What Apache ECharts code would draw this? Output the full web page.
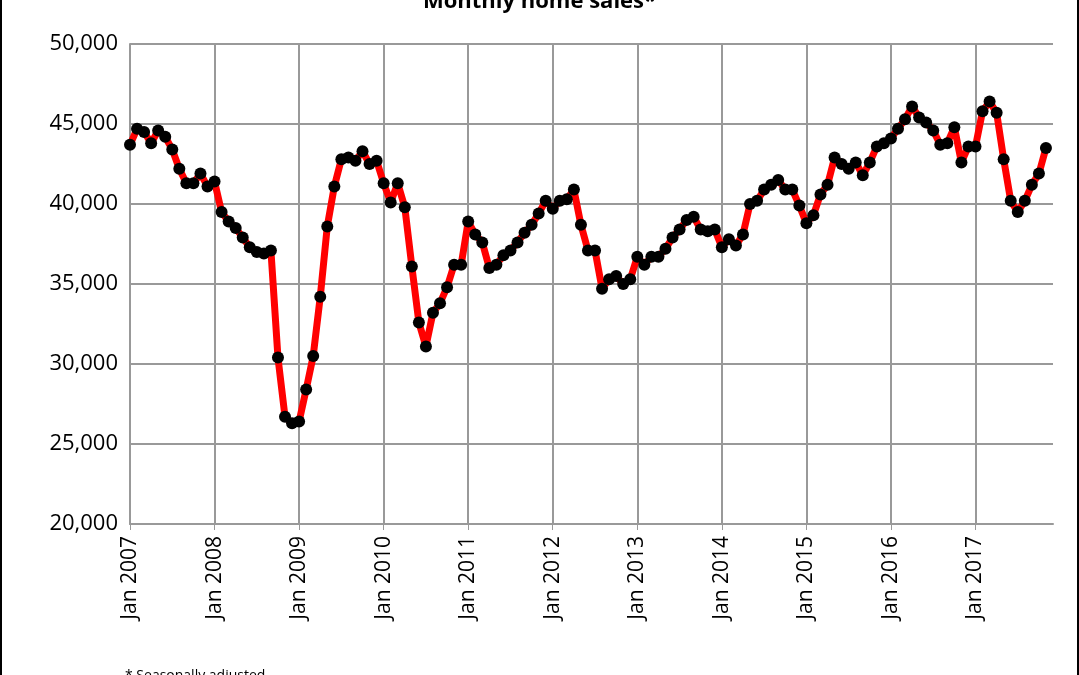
<!DOCTYPE html>
<html><head><meta charset="utf-8">
<script src="https://cdn.jsdelivr.net/npm/echarts@6/dist/echarts.min.js"></script>
<style>html,body{margin:0;padding:0;background:#fff}#c{width:1079px;height:675px;box-sizing:border-box;border-left:2px solid #000;border-right:2px solid #000}</style>
</head><body><div id="c"></div>
<script>
const years=[2007,2008,2009,2010,2011,2012,2013,2014,2015,2016,2017];
const s2007=[43700,44700,44500,43800,44600,44200,43400,42200,41300,41300,41900,41100];
const s2008=[41400,39500,38900,38500,37900,37300,37000,36900,37100,30400,26700,26300];
const s2009=[26400,28400,30500,34200,38600,41100,42800,42900,42700,43300,42500,42700];
const s2010=[41300,40100,41300,39800,36100,32600,31100,33200,33800,34800,36200,36200];
const s2011=[38900,38100,37600,36000,36200,36800,37100,37600,38200,38700,39400,40200];
const s2012=[39700,40200,40300,40900,38700,37100,37100,34700,35300,35500,35000,35300];
const s2013=[36700,36200,36700,36700,37200,37900,38400,39000,39200,38400,38300,38400];
const s2014=[37300,37800,37400,38100,40000,40200,40900,41200,41500,40900,40900,39900];
const s2015=[38800,39300,40600,41200,42900,42500,42200,42600,41800,42600,43600,43800];
const s2016=[44100,44700,45300,46100,45400,45100,44600,43700,43800,44800,42600,43600];
const s2017=[43600,45800,46400,45700,42800,40200,39500,40200,41200,41900,43500,null];
const months=['Jan','Feb','Mar','Apr','May','Jun','Jul','Aug','Sep','Oct','Nov','Dec'];
const series=[s2007,s2008,s2009,s2010,s2011,s2012,s2013,s2014,s2015,s2016,s2017];
const cats=[],vals=[];
series.forEach((s,i)=>s.forEach((v,m)=>{cats.push(months[m]+' '+years[i]);vals.push(v);}));
const ch=echarts.init(document.getElementById('c'));
const F='Open Sans';
ch.setOption({
 animation:false,
 title:[{text:'Monthly home sales*',left:'center',top:-14,textStyle:{fontFamily:F,fontSize:22,fontWeight:'bold',color:'#000'}},
        {text:'* Seasonally adjusted',left:118,top:664,textStyle:{fontFamily:F,fontSize:14,fontWeight:'normal',color:'#000'}}],
 grid:{left:128,right:24,top:44,bottom:151},
 xAxis:{type:'category',data:cats,boundaryGap:false,
  axisLine:{lineStyle:{color:'#999',width:2}},
  axisTick:{show:true,interval:(i)=>i%12===0,length:6,lineStyle:{color:'#999'}},
  axisLabel:{interval:(i)=>i%12===0,rotate:90,fontFamily:F,fontSize:21,color:'#000',margin:12},
  splitLine:{show:true,interval:(i)=>i%12===0,lineStyle:{color:'#999',width:2}}},
 yAxis:{type:'value',min:20000,max:50000,interval:5000,
  axisLine:{show:true,lineStyle:{color:'#999',width:2}},
  axisTick:{show:false},
  axisLabel:{fontFamily:F,fontSize:22,color:'#000',margin:12,formatter:v=>v.toLocaleString('en-US')},
  splitLine:{lineStyle:{color:'#999',width:2}}},
 series:[{type:'line',data:vals,symbol:'circle',symbolSize:12,showAllSymbol:true,
  lineStyle:{color:'#ff0000',width:7},itemStyle:{color:'#000'}}]
});
</script></body></html>
